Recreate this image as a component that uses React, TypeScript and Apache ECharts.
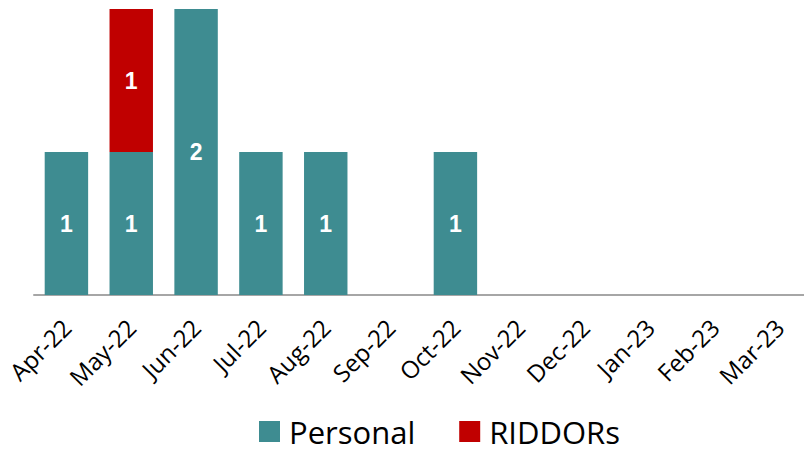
import React, { useEffect, useRef } from "react";
import * as echarts from "echarts";

const categories = ["Apr-22", "May-22", "Jun-22", "Jul-22", "Aug-22", "Sep-22", "Oct-22", "Nov-22", "Dec-22", "Jan-23", "Feb-23", "Mar-23"];
const personal = [1, 1, 2, 1, 1, 0, 1, 0, 0, 0, 0, 0];
const riddors = [0, 1, 0, 0, 0, 0, 0, 0, 0, 0, 0, 0];

export default function App() {
  const ref = useRef<HTMLDivElement>(null);
  useEffect(() => {
    document.body.style.margin = "0";
    document.body.style.overflow = "hidden";
    const chart = echarts.init(ref.current!, null, { renderer: "svg" });
    const label = {
      show: true,
      position: "inside",
      color: "#ffffff",
      fontFamily: "Liberation Sans, Arial, sans-serif",
      fontWeight: "bold",
      fontSize: 23,
      formatter: (p: any) => (p.value ? String(p.value) : ""),
    };
    chart.setOption({
      animation: false,
      grid: { left: 34, right: 0, top: 9, bottom: 156, containLabel: false },
      legend: {
        top: 411,
        left: 254,
        itemWidth: 21,
        itemHeight: 21,
        itemGap: 44,
        icon: "rect",
        textStyle: { fontFamily: "Open Sans", fontSize: 31, lineHeight: 30, color: "#000", padding: [0, 0, 0, 4] },
        data: ["Personal", "RIDDORs"],
      },
      xAxis: {
        type: "category",
        data: categories,
        axisLine: { lineStyle: { color: "#A6A6A6", width: 2 } },
        axisTick: { show: false },
        axisLabel: { rotate: 45, fontFamily: "Open Sans", fontSize: 24, color: "#000", margin: 28, interval: 0 },
      },
      yAxis: { type: "value", min: 0, max: 2, show: false, splitLine: { show: false } },
      series: [
        {
          name: "Personal",
          type: "bar",
          stack: "a",
          data: personal,
          barCategoryGap: "33%",
          itemStyle: { color: "#3E8C91" },
          label,
        },
        {
          name: "RIDDORs",
          type: "bar",
          stack: "a",
          data: riddors,
          itemStyle: { color: "#C00000" },
          label,
        },
      ],
    });
    return () => chart.dispose();
  }, []);
  return <div ref={ref} style={{ width: 812, height: 451 }} />;
}
